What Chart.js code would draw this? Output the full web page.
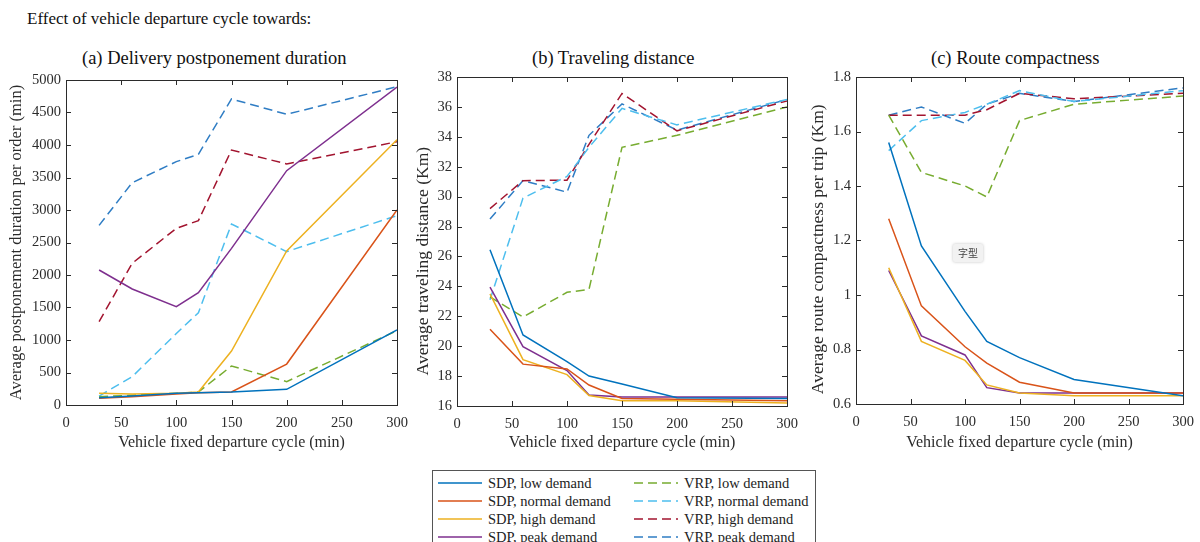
<!DOCTYPE html>
<html>
<head>
<meta charset="utf-8">
<script src="https://cdn.jsdelivr.net/npm/chart.js@4.4.1/dist/chart.umd.min.js"></script>
<style>
  body { margin: 0; width: 1200px; height: 542px; background: #fff; overflow: hidden; position: relative;
         font-family: "Liberation Serif", "DejaVu Serif", serif; color: #111; }
  .txt { position: absolute; white-space: nowrap; }
  .box { position: absolute; }
  #legend { position: absolute; left: 432px; top: 470px; width: 382px; height: 80px;
            border: 1px solid #555; background: #fff; font-size: 14.5px; color: #222; }
  .leg { position: absolute; height: 18px; line-height: 18px; white-space: nowrap; }
  .leg svg { position: absolute; left: 0; top: 4px; }
  .leg span { position: absolute; left: 50px; top: 0; white-space: nowrap; }
  #tip { position: absolute; left: 953px; top: 244px; width: 30px; height: 18px; background: #f2f2f2;
         border-radius: 2px; box-shadow: 0 0 3px rgba(0,0,0,0.25); font: 10px "Noto Sans CJK SC";
         color: #444; text-align: center; line-height: 18px; }
</style>
</head>
<body>
<div class="txt" style="left:27px;top:9px;font-size:17px;">Effect of vehicle departure cycle towards:</div>
<div class="txt" style="left:82px;top:48px;font-size:18.5px;">(a) Delivery postponement duration</div>
<div class="txt" style="left:532px;top:48px;font-size:18.5px;">(b) Traveling distance</div>
<div class="txt" style="left:931px;top:48px;font-size:18.5px;">(c) Route compactness</div>

<canvas id="chartA" class="box" style="left:0px;top:70px;" width="415" height="382"></canvas>
<canvas id="chartB" class="box" style="left:405px;top:70px;" width="395" height="382"></canvas>
<canvas id="chartC" class="box" style="left:800px;top:70px;" width="400" height="382"></canvas>
<div id="tip">字型</div>
<div id="legend"></div>

<script>
/* ---------- Data ---------- */
const cycles = [30, 60, 100, 120, 150, 200, 300];

const seriesLabels = ['SDP, low demand', 'SDP, normal demand', 'SDP, high demand', 'SDP, peak demand',
                      'VRP, low demand', 'VRP, normal demand', 'VRP, high demand', 'VRP, peak demand'];
const seriesColors = ['#0072BD', '#D95319', '#EDB120', '#7E2F8E', '#77AC30', '#4DBEEE', '#A2142F', '#2F7DC4'];
const seriesDashed = [false, false, false, false, true, true, true, true];

// (a) postponement duration per order (min)
const postponeSdpLow    = [113, 138, 180, 190, 200, 241, 1154];
const postponeSdpNormal = [103, 128, 170, 190, 200, 630, 3000];
const postponeSdpHigh   = [180, 170, 180, 200, 830, 2370, 4080];
const postponeSdpPeak   = [2077, 1785, 1513, 1728, 2410, 3605, 4890];
const postponeVrpLow    = [128, 150, 180, 200, 600, 360, 1144];
const postponeVrpNormal = [138, 436, 1100, 1420, 2785, 2360, 2913];
const postponeVrpHigh   = [1282, 2180, 2718, 2836, 3923, 3708, 4051];
const postponeVrpPeak   = [2764, 3420, 3744, 3856, 4708, 4472, 4897];

// (b) traveling distance (Km)
const distSdpLow    = [26.45, 20.75, 18.97, 18.0, 17.47, 16.55, 16.5];
const distSdpNormal = [21.13, 18.8, 18.48, 17.4, 16.5, 16.45, 16.35];
const distSdpHigh   = [23.5, 19.1, 18.1, 16.7, 16.35, 16.35, 16.2];
const distSdpPeak   = [23.95, 19.97, 18.37, 16.74, 16.6, 16.6, 16.6];
const distVrpLow    = [23.3, 21.95, 23.6, 23.8, 33.3, 34.1, 36.0];
const distVrpNormal = [23.1, 29.9, 31.35, 33.3, 35.9, 34.8, 36.5];
const distVrpHigh   = [29.2, 31.07, 31.1, 33.5, 36.9, 34.4, 36.4];
const distVrpPeak   = [28.5, 31.07, 30.3, 34.1, 36.2, 34.45, 36.5];

// (c) route compactness per trip (Km)
const compSdpLow    = [1.56, 1.18, 0.94, 0.83, 0.77, 0.69, 0.63];
const compSdpNormal = [1.28, 0.96, 0.81, 0.75, 0.68, 0.64, 0.64];
const compSdpHigh   = [1.10, 0.83, 0.76, 0.67, 0.64, 0.63, 0.63];
const compSdpPeak   = [1.09, 0.85, 0.78, 0.66, 0.64, 0.64, 0.64];
const compVrpLow    = [1.66, 1.45, 1.40, 1.36, 1.64, 1.70, 1.73];
const compVrpNormal = [1.53, 1.64, 1.67, 1.70, 1.75, 1.71, 1.75];
const compVrpHigh   = [1.66, 1.66, 1.66, 1.68, 1.74, 1.72, 1.74];
const compVrpPeak   = [1.66, 1.69, 1.63, 1.70, 1.74, 1.71, 1.76];

const serif = '"Liberation Serif", serif';
const axisFont = { family: serif, size: 14.5 };
const xTitleFont = { family: serif, size: 16 };
const axisColor = '#2b2b2b';

/* ---------- Helpers ---------- */
// MATLAB style box with inward ticks on all four sides
const boxTicks = {
    id: 'boxTicks',
    afterDatasetsDraw(chart) {
        const { ctx, chartArea: a, scales: { x, y } } = chart;
        const len = 5;
        ctx.save();
        ctx.strokeStyle = axisColor;
        ctx.lineWidth = 1;
        ctx.strokeRect(Math.round(a.left) + 0.5, Math.round(a.top) + 0.5,
                       Math.round(a.right - a.left), Math.round(a.bottom - a.top));
        ctx.beginPath();
        x.ticks.forEach(t => {
            const px = Math.round(x.getPixelForValue(t.value)) + 0.5;
            ctx.moveTo(px, a.bottom); ctx.lineTo(px, a.bottom - len);
            ctx.moveTo(px, a.top); ctx.lineTo(px, a.top + len);
        });
        y.ticks.forEach(t => {
            const py = Math.round(y.getPixelForValue(t.value)) + 0.5;
            ctx.moveTo(a.left, py); ctx.lineTo(a.left + len, py);
            ctx.moveTo(a.right, py); ctx.lineTo(a.right - len, py);
        });
        ctx.stroke();
        ctx.restore();
    }
};

function makeDatasets(seriesList) {
    return seriesList.map((vals, i) => ({
        label: seriesLabels[i],
        data: vals.map((v, j) => ({ x: cycles[j], y: v })),
        borderColor: seriesColors[i],
        borderWidth: 1.5,
        borderDash: seriesDashed[i] ? [9, 5] : [],
        pointRadius: 0,
        tension: 0,
        fill: false
    }));
}

function makeChart(id, seriesList, opt) {
    return new Chart(document.getElementById(id), {
        type: 'line',
        data: { datasets: makeDatasets(seriesList) },
        options: {
            responsive: false,
            animation: false,
            layout: { padding: { left: 0, top: opt.padTop, right: opt.padRight, bottom: 0 } },
            plugins: { legend: { display: false }, tooltip: { enabled: false } },
            scales: {
                x: {
                    type: 'linear', min: 0, max: 300,
                    grid: { display: false, drawTicks: false }, border: { display: false },
                    ticks: { stepSize: 50, color: axisColor, font: axisFont, padding: 9, maxRotation: 0 },
                    title: { display: true, text: 'Vehicle fixed departure cycle (min)', color: axisColor,
                             font: xTitleFont, padding: { top: 0, bottom: 0 } },
                    afterFit(scale) { scale.height = opt.xHeight; scale.paddingLeft = 0; scale.paddingRight = 0; }
                },
                y: {
                    min: opt.yMin, max: opt.yMax,
                    grid: { display: false, drawTicks: false }, border: { display: false },
                    ticks: { stepSize: opt.yStep, color: axisColor, font: axisFont, padding: 5,
                             callback: v => String(Number(v.toFixed(2))) },
                    title: { display: true, text: opt.yTitle, color: axisColor,
                             font: { family: serif, size: opt.yTitleSize },
                             padding: { top: opt.yTitlePad, bottom: 0 } },
                    afterFit(scale) { scale.width = opt.yWidth; scale.paddingTop = 0; scale.paddingBottom = 0; }
                }
            }
        },
        plugins: [boxTicks]
    });
}

/* ---------- Charts ---------- */
makeChart('chartA',
    [postponeSdpLow, postponeSdpNormal, postponeSdpHigh, postponeSdpPeak,
     postponeVrpLow, postponeVrpNormal, postponeVrpHigh, postponeVrpPeak],
    { yMin: 0, yMax: 5000, yStep: 500, yTitle: 'Average postponement duration per order (min)',
      yTitleSize: 16.5, yWidth: 66, yTitlePad: 7, xHeight: 47, padRight: 18, padTop: 10 });

makeChart('chartB',
    [distSdpLow, distSdpNormal, distSdpHigh, distSdpPeak,
     distVrpLow, distVrpNormal, distVrpHigh, distVrpPeak],
    { yMin: 16, yMax: 38, yStep: 2, yTitle: 'Average traveling distance (Km)         ',
      yTitleSize: 17.5, yWidth: 52, yTitlePad: 8, xHeight: 46, padRight: 13, padTop: 7 });

makeChart('chartC',
    [compSdpLow, compSdpNormal, compSdpHigh, compSdpPeak,
     compVrpLow, compVrpNormal, compVrpHigh, compVrpPeak],
    { yMin: 0.6, yMax: 1.8, yStep: 0.2, yTitle: 'Average route compactness per trip (Km)    ',
      yTitleSize: 17.5, yWidth: 56, yTitlePad: 8, xHeight: 48, padRight: 17, padTop: 7 });

/* ---------- Shared legend ---------- */
const legend = document.getElementById('legend');
seriesLabels.forEach((label, i) => {
    const col = i < 4 ? 0 : 1;
    const row = i % 4;
    const item = document.createElement('div');
    item.className = 'leg';
    item.style.left = (col === 0 ? 5 : 201) + 'px';
    item.style.top = (3 + row * 18) + 'px';
    const dash = seriesDashed[i] ? 'stroke-dasharray="9 5"' : '';
    item.innerHTML = `<svg width="44" height="10"><line x1="0" y1="5" x2="44" y2="5" stroke="${seriesColors[i]}" stroke-width="1.5" ${dash}/></svg><span>${label}</span>`;
    legend.appendChild(item);
});
</script>
</body>
</html>
